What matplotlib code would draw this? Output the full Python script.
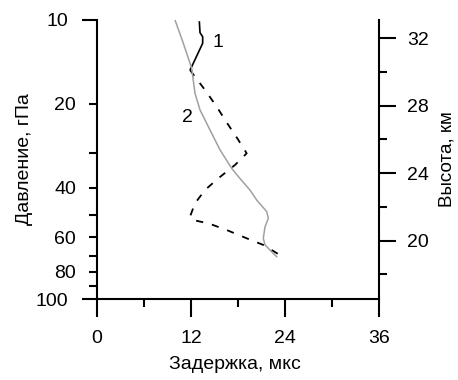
import matplotlib
matplotlib.use("Agg")
import matplotlib.pyplot as plt
from matplotlib.ticker import FixedLocator, FixedFormatter, NullFormatter

plt.rcParams['font.family'] = ['Liberation Sans', 'DejaVu Sans']

# Curve 1 (solid upper part)
c1_solid_x = [13.06, 13.15, 13.49, 13.49, 12.09, 11.87]
c1_solid_p = [10.1, 11.1, 11.48, 12.12, 14.7, 15.1]
# Curve 1 (dashed lower part)
c1_dash_x = [11.87, 12.51, 13.79, 15.28, 16.63, 17.91, 19.11, 17.62, 15.49, 13.79,
             12.51, 11.87, 12.29, 14.43, 16.76, 19.11, 21.23, 23.36]
c1_dash_p = [15.1, 15.97, 17.82, 20.45, 23.46, 26.55, 30.05, 33.08, 36.93, 40.67,
             45.4, 50.7, 52.1, 53.8, 56.9, 60.6, 64.0, 69.6]
# Curve 2 (gray)
c2_x = [9.96, 11.02, 12.09, 12.51, 13.15, 14.43, 15.70, 17.19, 18.04, 19.53,
        20.39, 21.66, 21.87, 21.45, 21.23, 21.45, 22.72, 22.94]
c2_p = [10.0, 12.12, 14.9, 18.31, 21.0, 24.8, 29.2, 34.0, 36.4, 40.7,
        44.2, 48.6, 51.4, 55.1, 60.6, 64.0, 69.6, 70.5]

x_major = [0, 12, 24, 36]
x_minor = [6, 18, 30]
p_major = [10, 100]
p_minor = [20, 30, 40, 50, 60, 70, 80, 90]
p_minor_labels = ['20', '', '40', '', '60', '', '80', '']
h_major = [20, 24, 28, 32]
h_minor = [18, 22, 26, 30]

FS = 14

fig = plt.figure(figsize=(4.58, 3.80), dpi=100)
ax = fig.add_axes([97/458, 1-299/380, (379-97)/458, (299-20)/380])

ax.plot(c1_solid_x, c1_solid_p, color='black', lw=1.2, solid_capstyle='butt')
ax.plot(c1_dash_x, c1_dash_p, color='black', lw=1.3, dashes=(4, 5))
ax.plot(c2_x, c2_p, color='#a0a0a0', lw=1.1)

ax.text(15.45, 12.0, '1', fontsize=FS, ha='center', va='center')
ax.text(11.6, 22.4, '2', fontsize=FS, ha='center', va='center')

ax.set_yscale('log')
ax.set_ylim(100, 10)
ax.set_xlim(0, 36)

ax.xaxis.set_major_locator(FixedLocator(x_major))
ax.xaxis.set_minor_locator(FixedLocator(x_minor))
ax.xaxis.set_minor_formatter(NullFormatter())
ax.yaxis.set_major_locator(FixedLocator(p_major))
ax.yaxis.set_major_formatter(FixedFormatter([str(v) for v in p_major]))
ax.yaxis.set_minor_locator(FixedLocator(p_minor))
ax.yaxis.set_minor_formatter(FixedFormatter(p_minor_labels))

for s in ['top', 'right']:
    ax.spines[s].set_visible(False)
for s in ['left', 'bottom']:
    ax.spines[s].set_linewidth(1.5)

ax.tick_params(axis='x', which='major', direction='out', length=13, width=1.5, pad=9, labelsize=FS)
ax.tick_params(axis='x', which='minor', direction='out', length=6, width=1.5)
ax.tick_params(axis='y', which='major', direction='out', length=11, width=1.5, pad=9.5, labelsize=FS)
ax.tick_params(axis='y', which='minor', direction='out', length=6, width=1.5, pad=9, labelsize=FS)

ax.set_xlabel('Задержка, мкс', fontsize=FS)
ax.xaxis.set_label_coords(0.49, -0.205)
ax.set_ylabel('Давление, гПа', fontsize=FS)
ax.yaxis.set_label_coords(-0.227, 0.5)

ax2 = ax.twinx()
ax2.set_ylim(16.54, 33.07)
for s in ['top', 'left', 'bottom']:
    ax2.spines[s].set_visible(False)
ax2.spines['right'].set_linewidth(1.5)
ax2.yaxis.set_major_locator(FixedLocator(h_major))
ax2.yaxis.set_minor_locator(FixedLocator(h_minor))
ax2.yaxis.set_minor_formatter(NullFormatter())
ax2.tick_params(axis='y', which='major', direction='out', length=12, width=1.5, pad=8, labelsize=FS)
ax2.tick_params(axis='y', which='minor', direction='out', length=6, width=1.5)
ax2.set_ylabel('Высота, км', fontsize=13.5)
ax2.yaxis.set_label_coords(1.212, 0.5)

fig.savefig('out.png', dpi=100)
